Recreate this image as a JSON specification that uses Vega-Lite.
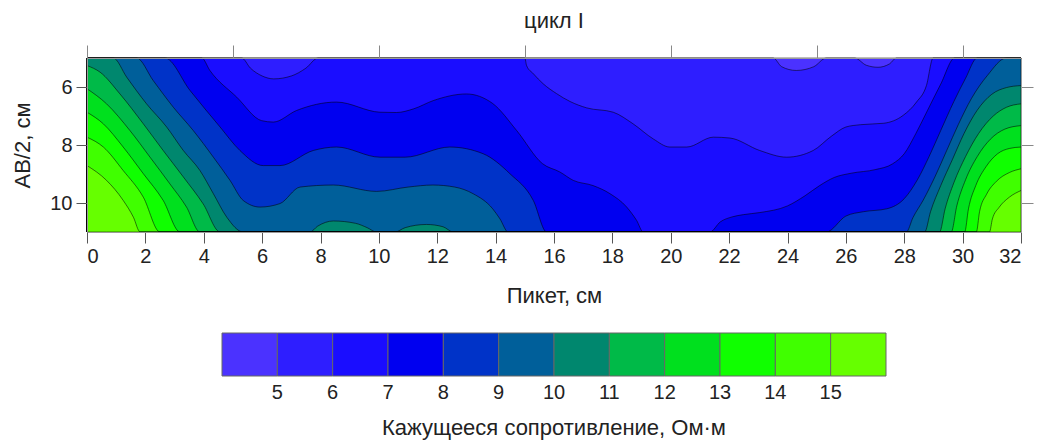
{
  "$schema": "https://vega.github.io/schema/vega-lite/v6.json",
  "width": 934,
  "height": 174,
  "autosize": {"type": "none"},
  "padding": {"left": 87, "top": 58, "right": 21, "bottom": 209},
  "background": "white",
  "config": {"view": {"stroke": null}},
  "title": {"text": "цикл I", "font": "Liberation Sans", "fontSize": 22, "fontWeight": "normal", "color": "#222", "offset": 12},
  "data": {"values": [
    {"c":4,"x":0,"y":5},{"c":4,"x":32,"y":5},
    {"c":5,"x":0,"y":5},{"c":5,"x":23.51,"y":5},{"c":5,"x":23.8,"y":5.3},{"c":5,"x":24.3,"y":5.43},{"c":5,"x":24.9,"y":5.3},{"c":5,"x":25.33,"y":5},{"c":5,"x":26.3,"y":5},{"c":5,"x":26.7,"y":5.25},{"c":5,"x":27.1,"y":5.32},{"c":5,"x":27.5,"y":5.2},{"c":5,"x":27.73,"y":5},{"c":5,"x":32,"y":5},
    {"c":6,"x":0,"y":5},{"c":6,"x":5.3,"y":5},{"c":6,"x":5.6,"y":5.35},{"c":6,"x":6.0,"y":5.62},{"c":6,"x":6.4,"y":5.72},{"c":6,"x":7.0,"y":5.62},{"c":6,"x":7.5,"y":5.35},{"c":6,"x":7.92,"y":5},{"c":6,"x":15.0,"y":5},{"c":6,"x":15.06,"y":5.26},{"c":6,"x":15.29,"y":5.54},{"c":6,"x":15.63,"y":5.89},{"c":6,"x":16.09,"y":6.23},{"c":6,"x":16.55,"y":6.5},{"c":6,"x":17.12,"y":6.72},{"c":6,"x":18.03,"y":6.87},{"c":6,"x":18.71,"y":7.27},{"c":6,"x":19.4,"y":7.79},{"c":6,"x":19.97,"y":8.07},{"c":6,"x":20.55,"y":8.07},{"c":6,"x":21.46,"y":7.73},{"c":6,"x":22.03,"y":7.76},{"c":6,"x":23.05,"y":8.19},{"c":6,"x":23.97,"y":8.42},{"c":6,"x":24.88,"y":8.19},{"c":6,"x":25.5,"y":7.7},{"c":6,"x":26.0,"y":7.38},{"c":6,"x":26.5,"y":7.3},{"c":6,"x":27.3,"y":7.25},{"c":6,"x":27.96,"y":6.98},{"c":6,"x":28.42,"y":6.52},{"c":6,"x":28.76,"y":5.95},{"c":6,"x":28.99,"y":5},{"c":6,"x":32,"y":5},
    {"c":7,"x":0,"y":5},{"c":7,"x":3.93,"y":5},{"c":7,"x":4.21,"y":5.43},{"c":7,"x":5.13,"y":6.35},{"c":7,"x":5.98,"y":7.16},{"c":7,"x":6.38,"y":7.21},{"c":7,"x":7.18,"y":6.81},{"c":7,"x":8.55,"y":6.52},{"c":7,"x":10.04,"y":6.87},{"c":7,"x":10.6,"y":6.88},{"c":7,"x":11.2,"y":6.75},{"c":7,"x":11.86,"y":6.47},{"c":7,"x":13.0,"y":6.24},{"c":7,"x":13.9,"y":6.57},{"c":7,"x":14.72,"y":7.5},{"c":7,"x":15.6,"y":8.64},{"c":7,"x":16.2,"y":8.93},{"c":7,"x":16.66,"y":9.22},{"c":7,"x":17.34,"y":9.4},{"c":7,"x":17.92,"y":9.68},{"c":7,"x":18.49,"y":10.14},{"c":7,"x":18.83,"y":10.6},{"c":7,"x":19.06,"y":11},{"c":7,"x":21.34,"y":11},{"c":7,"x":21.7,"y":10.65},{"c":7,"x":22.1,"y":10.48},{"c":7,"x":22.5,"y":10.4},{"c":7,"x":23.05,"y":10.33},{"c":7,"x":24.0,"y":10.1},{"c":7,"x":24.6,"y":9.75},{"c":7,"x":25.1,"y":9.4},{"c":7,"x":25.6,"y":9.12},{"c":7,"x":26.2,"y":8.97},{"c":7,"x":27.0,"y":8.85},{"c":7,"x":27.6,"y":8.65},{"c":7,"x":28.0,"y":8.3},{"c":7,"x":28.4,"y":7.6},{"c":7,"x":28.8,"y":6.8},{"c":7,"x":29.25,"y":5.9},{"c":7,"x":29.73,"y":5},{"c":7,"x":32,"y":5},
    {"c":8,"x":0,"y":5},{"c":8,"x":2.67,"y":5},{"c":8,"x":3.53,"y":6.12},{"c":8,"x":4.56,"y":7.38},{"c":8,"x":5.24,"y":8.19},{"c":8,"x":6.04,"y":8.71},{"c":8,"x":6.61,"y":8.71},{"c":8,"x":7.75,"y":8.19},{"c":8,"x":8.55,"y":8.07},{"c":8,"x":10.04,"y":8.42},{"c":8,"x":10.9,"y":8.42},{"c":8,"x":12.43,"y":8.07},{"c":8,"x":13.57,"y":8.3},{"c":8,"x":14.49,"y":8.99},{"c":8,"x":15.29,"y":9.91},{"c":8,"x":15.75,"y":11},{"c":8,"x":25.33,"y":11},{"c":8,"x":26.0,"y":10.45},{"c":8,"x":26.6,"y":10.3},{"c":8,"x":27.4,"y":10.2},{"c":8,"x":28.0,"y":9.85},{"c":8,"x":28.45,"y":9.2},{"c":8,"x":28.85,"y":8.4},{"c":8,"x":29.25,"y":7.5},{"c":8,"x":29.7,"y":6.5},{"c":8,"x":30.1,"y":5.7},{"c":8,"x":30.5,"y":5},{"c":8,"x":32,"y":5},
    {"c":9,"x":0,"y":5},{"c":9,"x":1.7,"y":5},{"c":9,"x":2.27,"y":5.78},{"c":9,"x":2.96,"y":6.7},{"c":9,"x":3.64,"y":7.5},{"c":9,"x":4.33,"y":8.42},{"c":9,"x":4.9,"y":9.22},{"c":9,"x":5.35,"y":9.91},{"c":9,"x":5.93,"y":10.14},{"c":9,"x":6.61,"y":10.02},{"c":9,"x":7.3,"y":9.45},{"c":9,"x":8.44,"y":9.38},{"c":9,"x":9.92,"y":9.6},{"c":9,"x":11.0,"y":9.45},{"c":9,"x":11.85,"y":9.38},{"c":9,"x":12.6,"y":9.45},{"c":9,"x":13.23,"y":9.68},{"c":9,"x":13.9,"y":10.2},{"c":9,"x":14.15,"y":10.55},{"c":9,"x":14.43,"y":11},{"c":9,"x":28.07,"y":11},{"c":9,"x":28.3,"y":10.5},{"c":9,"x":28.65,"y":9.9},{"c":9,"x":29.05,"y":9.1},{"c":9,"x":29.45,"y":8.2},{"c":9,"x":29.85,"y":7.3},{"c":9,"x":30.3,"y":6.4},{"c":9,"x":30.85,"y":5.6},{"c":9,"x":31.5,"y":5},{"c":9,"x":32,"y":5},
    {"c":10,"x":0,"y":5},{"c":10,"x":0.9,"y":5},{"c":10,"x":1.36,"y":5.66},{"c":10,"x":2.04,"y":6.58},{"c":10,"x":2.73,"y":7.38},{"c":10,"x":3.3,"y":8.19},{"c":10,"x":3.87,"y":8.88},{"c":10,"x":4.33,"y":9.68},{"c":10,"x":4.79,"y":10.49},{"c":10,"x":5.35,"y":11},{"c":10,"x":7.64,"y":11},{"c":10,"x":7.9,"y":10.8},{"c":10,"x":8.44,"y":10.62},{"c":10,"x":9.2,"y":10.7},{"c":10,"x":9.6,"y":10.85},{"c":10,"x":9.92,"y":11},{"c":10,"x":10.55,"y":11},{"c":10,"x":10.9,"y":10.85},{"c":10,"x":11.63,"y":10.74},{"c":10,"x":12.2,"y":10.82},{"c":10,"x":12.55,"y":11},{"c":10,"x":28.7,"y":11},{"c":10,"x":28.9,"y":10.3},{"c":10,"x":29.25,"y":9.4},{"c":10,"x":29.65,"y":8.5},{"c":10,"x":30.05,"y":7.6},{"c":10,"x":30.5,"y":6.8},{"c":10,"x":31.0,"y":6.25},{"c":10,"x":31.5,"y":6.02},{"c":10,"x":32,"y":5.95},
    {"c":11,"x":0,"y":5.26},{"c":11,"x":0.45,"y":5.49},{"c":11,"x":1.13,"y":6.24},{"c":11,"x":1.93,"y":7.27},{"c":11,"x":2.61,"y":8.19},{"c":11,"x":3.3,"y":9.1},{"c":11,"x":3.98,"y":10.03},{"c":11,"x":4.56,"y":11},{"c":11,"x":29.21,"y":11},{"c":11,"x":29.4,"y":10.2},{"c":11,"x":29.7,"y":9.3},{"c":11,"x":30.1,"y":8.4},{"c":11,"x":30.55,"y":7.6},{"c":11,"x":31.05,"y":7.0},{"c":11,"x":31.5,"y":6.7},{"c":11,"x":32,"y":6.58},
    {"c":12,"x":0,"y":6.06},{"c":12,"x":0.67,"y":6.58},{"c":12,"x":1.47,"y":7.5},{"c":12,"x":2.16,"y":8.42},{"c":12,"x":2.84,"y":9.34},{"c":12,"x":3.41,"y":10.14},{"c":12,"x":3.87,"y":11},{"c":12,"x":29.61,"y":11},{"c":12,"x":29.8,"y":10.1},{"c":12,"x":30.1,"y":9.2},{"c":12,"x":30.5,"y":8.4},{"c":12,"x":30.95,"y":7.8},{"c":12,"x":31.45,"y":7.45},{"c":12,"x":32,"y":7.33},
    {"c":13,"x":0,"y":6.87},{"c":13,"x":0.56,"y":7.27},{"c":13,"x":1.24,"y":8.07},{"c":13,"x":1.93,"y":8.99},{"c":13,"x":2.61,"y":9.91},{"c":13,"x":3.19,"y":11},{"c":13,"x":30.07,"y":11},{"c":13,"x":30.2,"y":10.2},{"c":13,"x":30.45,"y":9.4},{"c":13,"x":30.8,"y":8.75},{"c":13,"x":31.2,"y":8.3},{"c":13,"x":31.6,"y":8.12},{"c":13,"x":32,"y":8.07},
    {"c":14,"x":0,"y":7.73},{"c":14,"x":0.56,"y":8.07},{"c":14,"x":1.24,"y":8.88},{"c":14,"x":1.93,"y":9.8},{"c":14,"x":2.5,"y":11},{"c":14,"x":30.47,"y":11},{"c":14,"x":30.58,"y":10.3},{"c":14,"x":30.82,"y":9.7},{"c":14,"x":31.16,"y":9.25},{"c":14,"x":31.6,"y":8.95},{"c":14,"x":32,"y":8.82},
    {"c":15,"x":0,"y":8.71},{"c":15,"x":0.67,"y":9.22},{"c":15,"x":1.24,"y":9.91},{"c":15,"x":1.59,"y":10.49},{"c":15,"x":1.82,"y":11},{"c":15,"x":30.92,"y":11},{"c":15,"x":31.02,"y":10.55},{"c":15,"x":31.25,"y":10.15},{"c":15,"x":31.6,"y":9.8},{"c":15,"x":32,"y":9.57}
  ]},
  "resolve": {"axis": {"x": "independent", "y": "independent"}},
  "layer": [
    {
      "mark": {"type": "area", "interpolate": "monotone", "stroke": "#000", "strokeWidth": 0.7, "strokeOpacity": 0.75},
      "encoding": {
        "x": {"field": "x", "type": "quantitative", "scale": {"domain": [0, 32], "nice": false, "zero": false},
              "axis": {"orient": "bottom", "values": [0,2,4,6,8,10,12,14,16,18,20,22,24,26,28,30,32], "grid": false, "zindex": 1,
                       "domainColor": "#9a9a9a", "tickColor": "#555", "tickSize": 11, "labelPadding": 3,
                       "labelFont": "Liberation Sans", "labelFontSize": 20, "labelColor": "#222",
                       "title": "Пикет, см", "titleFont": "Liberation Sans", "titleFontSize": 22, "titleFontWeight": "normal", "titleColor": "#222", "titlePadding": 19}},
        "y": {"field": "y", "type": "quantitative", "stack": null, "scale": {"domain": [5, 11], "nice": false, "zero": false, "reverse": true},
              "axis": {"orient": "left", "values": [6, 8, 10], "grid": false, "zindex": 1,
                       "domainColor": "#9a9a9a", "tickColor": "#555", "tickSize": 11, "labelPadding": 4,
                       "labelFont": "Liberation Sans", "labelFontSize": 20, "labelColor": "#222",
                       "title": "AB/2, см", "titleFont": "Liberation Sans", "titleFontSize": 22, "titleFontWeight": "normal", "titleColor": "#222", "titlePadding": 15}},
        "y2": {"datum": 11},
        "detail": {"field": "c"},
        "color": {"field": "c", "type": "quantitative",
                  "scale": {"type": "threshold", "domain": [5,6,7,8,9,10,11,12,13,14,15],
                            "range": ["#4b32ff","#2e1eff","#1a0dff","#0000f0","#0033c8","#005f9a","#00876e","#00ba48","#00e01e","#10ff00","#40ff00","#66ff00"]},
                  "legend": {"type": "gradient", "direction": "horizontal", "orient": "none", "legendX": 135, "legendY": 275, "padding": 0,
                             "gradientLength": 664, "gradientThickness": 43, "gradientStrokeColor": "#666", "gradientStrokeWidth": 1,
                             "labelFont": "Liberation Sans", "labelFontSize": 20, "labelColor": "#222", "labelOffset": 7, "labelOverlap": false,
                             "title": "Кажущееся сопротивление, Ом·м", "titleOrient": "bottom", "titleAnchor": "middle", "titleLimit": 900,
                             "titleFont": "Liberation Sans", "titleFontSize": 22, "titleFontWeight": "normal", "titleColor": "#222", "titlePadding": 15}}
      }
    },
    {
      "mark": {"type": "point", "opacity": 0},
      "encoding": {
        "x": {"field": "x", "type": "quantitative",
              "axis": {"orient": "top", "values": [0,5,10,15,20,25,30], "labels": false, "title": null, "grid": false, "zindex": 1,
                       "domainColor": "#9a9a9a", "tickColor": "#888", "tickSize": 13}},
        "y": {"field": "y", "type": "quantitative",
              "axis": {"orient": "right", "values": [6, 8, 10], "labels": false, "title": null, "grid": false, "zindex": 1,
                       "domainColor": "#9a9a9a", "tickColor": "#888", "tickSize": 12}}
      }
    }
  ]
}
